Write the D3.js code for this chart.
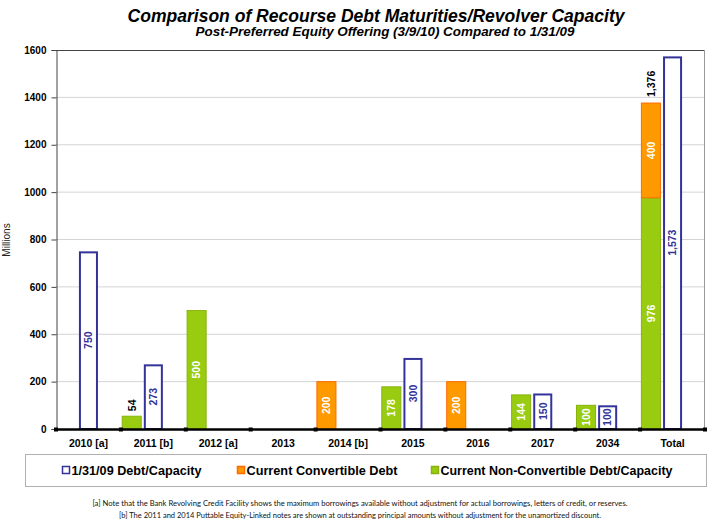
<!DOCTYPE html>
<html>
<head>
<meta charset="utf-8">
<script src="https://cdn.jsdelivr.net/npm/d3@7"></script>
<style>
  html, body { margin: 0; padding: 0; background: #fff; }
  svg { display: block; }
</style>
</head>
<body>
<svg id="chart" width="720" height="528"></svg>
<script>
// ---- Data ----
const categories = ["2010 [a]", "2011 [b]", "2012 [a]", "2013", "2014 [b]", "2015", "2016", "2017", "2034", "Total"];
const priorDebt = [750, 273, 0, 0, 0, 300, 0, 150, 100, 1573];          // 1/31/09 Debt/Capacity
const convertibleDebt = [0, 0, 0, 0, 200, 0, 200, 0, 0, 400];          // Current Convertible Debt
const nonConvertibleDebt = [0, 54, 500, 0, 0, 178, 0, 144, 100, 976];  // Current Non-Convertible Debt/Capacity
const yTicks = [0, 200, 400, 600, 800, 1000, 1200, 1400, 1600];
const seriesNames = ["1/31/09 Debt/Capacity", "Current Convertible Debt", "Current Non-Convertible Debt/Capacity"];
const titleText = "Comparison of Recourse Debt Maturities/Revolver Capacity";
const subtitleText = "Post-Preferred Equity Offering (3/9/10) Compared to 1/31/09";
const footnotes = [
  "[a] Note that the Bank Revolving Credit Facility  shows the maximum borrowings available without adjustment for actual borrowings, letters of credit, or reserves.",
  "[b] The 2011 and 2014 Puttable Equity-Linked notes are shown at outstanding principal amounts without adjustment for the unamortized discount."
];

(function () {
// ---- Styles ----
const BLUE = "#33339a", ORANGE = "#ff9900", ORANGE_STROKE = "#ff6a00", GREEN = "#99cc11", GREEN_STROKE = "#88b30e";
const FONT = "'Liberation Sans', Arial, Helvetica, sans-serif";

const svg = d3.select("#chart");
const pLeft = 56, pRight = 705, pTop = 50, pBottom = 429;

const x = d3.scaleBand().domain(categories).range([pLeft, pRight]).padding(0);
const slot = d3.scaleBand().domain(["current", "prior", "none"]).range([0, x.bandwidth()])
  .paddingInner(0.12).paddingOuter(0.06);
const y = d3.scaleLinear().domain([0, 1600]).range([pBottom, pTop]);

// Title
svg.append("text").attr("x", 376).attr("y", 22).attr("text-anchor", "middle")
  .attr("font-family", FONT).attr("font-weight", "bold").attr("font-style", "italic")
  .attr("font-size", 18.5).attr("textLength", 497).attr("lengthAdjust", "spacingAndGlyphs")
  .text(titleText);
svg.append("text").attr("x", 385).attr("y", 35.5).attr("text-anchor", "middle")
  .attr("font-family", FONT).attr("font-weight", "bold").attr("font-style", "italic")
  .attr("font-size", 12.5).attr("textLength", 379).attr("lengthAdjust", "spacingAndGlyphs")
  .text(subtitleText);

// Gridlines
svg.append("g").selectAll("line").data(yTicks.filter(d => d > 0 && d < 1600)).join("line")
  .attr("x1", pLeft).attr("x2", pRight).attr("y1", d => y(d)).attr("y2", d => y(d))
  .attr("stroke", "#d4d4d4").attr("stroke-width", 1);

// Plot border
svg.append("line").attr("x1", pLeft).attr("x2", pRight).attr("y1", pTop + 0.5).attr("y2", pTop + 0.5)
  .attr("stroke", "#444").attr("stroke-width", 1);
svg.append("line").attr("x1", pRight - 0.5).attr("x2", pRight - 0.5).attr("y1", pTop).attr("y2", pBottom)
  .attr("stroke", "#999").attr("stroke-width", 1);

// Y axis
const yAxis = d3.axisLeft(y).tickValues(yTicks).tickSize(5).tickPadding(5).tickFormat(d3.format("d"));
const gy = svg.append("g").attr("transform", `translate(${pLeft + 0.5},0)`).call(yAxis);
gy.select(".domain").attr("stroke", "#444");
gy.selectAll(".tick line").attr("stroke", "#444");
gy.selectAll("text").attr("font-family", FONT).attr("font-weight", "bold").attr("font-size", 10).attr("fill", "#000");

svg.append("text").attr("transform", `translate(10,240) rotate(-90)`).attr("text-anchor", "middle")
  .attr("font-family", FONT).attr("font-size", 10).attr("fill", "#222").text("Millions");

// Bars data
const rows = categories.map((c, i) => ({
  cat: c, prior: priorDebt[i], conv: convertibleDebt[i], nonconv: nonConvertibleDebt[i]
}));
const fmt = d3.format(",");

const bw = slot.bandwidth();
// Non-convertible (green, bottom of stack)
svg.append("g").selectAll("rect").data(rows.filter(d => d.nonconv > 0)).join("rect")
  .attr("x", d => x(d.cat) + slot("current")).attr("width", bw)
  .attr("y", d => y(d.nonconv)).attr("height", d => y(0) - y(d.nonconv))
  .attr("fill", GREEN).attr("stroke", GREEN_STROKE).attr("stroke-width", 1);
// Convertible (orange, stacked on green)
svg.append("g").selectAll("rect").data(rows.filter(d => d.conv > 0)).join("rect")
  .attr("x", d => x(d.cat) + slot("current")).attr("width", bw)
  .attr("y", d => y(d.nonconv + d.conv)).attr("height", d => y(d.nonconv) - y(d.nonconv + d.conv))
  .attr("fill", ORANGE).attr("stroke", ORANGE_STROKE).attr("stroke-width", 1);
// Prior (blue outlined)
svg.append("g").selectAll("rect").data(rows.filter(d => d.prior > 0)).join("rect")
  .attr("x", d => x(d.cat) + slot("prior") + 1).attr("width", bw - 2)
  .attr("y", d => y(d.prior) + 1).attr("height", d => y(0) - y(d.prior) - 1)
  .attr("fill", "#fff").attr("stroke", BLUE).attr("stroke-width", 2);

// X axis (thick black baseline with square tick marks)
svg.append("line").attr("x1", pLeft - 2).attr("x2", pRight + 2).attr("y1", pBottom + 0.5).attr("y2", pBottom + 0.5)
  .attr("stroke", "#000").attr("stroke-width", 2.5);
const boundaries = categories.map(c => x(c)).concat([pRight]);
svg.append("g").selectAll("rect").data(boundaries).join("rect")
  .attr("x", d => d - 2).attr("y", pBottom - 1.5).attr("width", 4).attr("height", 4).attr("fill", "#000");
svg.append("g").selectAll("text").data(categories).join("text")
  .attr("x", d => x(d) + x.bandwidth() / 2).attr("y", 446.5).attr("text-anchor", "middle")
  .attr("font-family", FONT).attr("font-weight", "bold").attr("font-size", 10.5).text(d => d);

// Value labels (rotated)
function vlabel(cx, cy, txt, color, anchor) {
  svg.append("text").attr("transform", `translate(${cx + 3.8},${cy}) rotate(-90)`)
    .attr("text-anchor", anchor || "middle").attr("font-family", FONT).attr("font-weight", "bold")
    .attr("font-size", 10.5).attr("fill", color).text(txt);
}
rows.forEach(d => {
  const cxCur = x(d.cat) + slot("current") + bw / 2;
  const cxPri = x(d.cat) + slot("prior") + bw / 2;
  if (d.nonconv > 0) {
    const h = y(0) - y(d.nonconv);
    if (h > 20) vlabel(cxCur, (y(0) + y(d.nonconv)) / 2, fmt(d.nonconv), "#fff");
    else vlabel(cxCur, y(d.nonconv) - 5, fmt(d.nonconv), "#000", "start");
  }
  if (d.conv > 0) vlabel(cxCur, (y(d.nonconv) + y(d.nonconv + d.conv)) / 2, fmt(d.conv), "#fff");
  if (d.conv > 0 && d.nonconv > 0) vlabel(cxCur, y(d.nonconv + d.conv) - 6, fmt(d.nonconv + d.conv), "#000", "start");
  if (d.prior > 0) vlabel(cxPri, (y(0) + y(d.prior)) / 2, fmt(d.prior), BLUE);
});

// Legend
svg.append("rect").attr("x", 25.5).attr("y", 454.5).attr("width", 681).attr("height", 32)
  .attr("fill", "#fff").attr("stroke", "#b0b0b0").attr("stroke-width", 1);
const legendItems = [
  { name: seriesNames[0], x: 62, fill: "#fff", stroke: BLUE, len: 130 },
  { name: seriesNames[1], x: 237, fill: ORANGE, stroke: ORANGE_STROKE, len: 151 },
  { name: seriesNames[2], x: 431, fill: GREEN, stroke: GREEN_STROKE, len: 232 }
];
const lg = svg.append("g").selectAll("g").data(legendItems).join("g");
lg.append("rect").attr("x", d => d.x + 0.5).attr("y", 466.5).attr("width", 7).attr("height", 7)
  .attr("fill", d => d.fill).attr("stroke", d => d.stroke).attr("stroke-width", 1.5);
lg.append("text").attr("x", d => d.x + 9.5).attr("y", 474.5)
  .attr("font-family", FONT).attr("font-weight", "bold").attr("font-size", 12.5)
  .attr("textLength", d => d.len).attr("lengthAdjust", "spacingAndGlyphs").text(d => d.name);

// Footnotes
svg.append("g").selectAll("text").data(footnotes).join("text")
  .attr("x", 360).attr("y", (d, i) => 506 + i * 11.5).attr("text-anchor", "middle")
  .attr("font-family", "Lato, 'Open Sans', sans-serif").attr("font-size", 8)
  .attr("textLength", (d, i) => i === 0 ? 535 : 482).attr("lengthAdjust", "spacingAndGlyphs")
  .attr("fill", "#111").text(d => d);
})();
</script>
</body>
</html>
